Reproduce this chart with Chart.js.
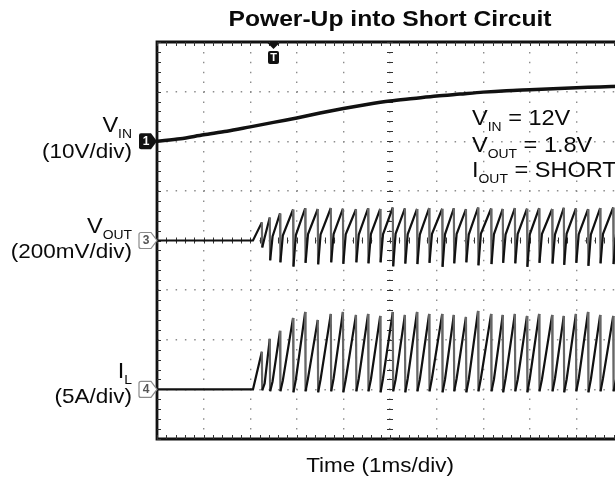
<!DOCTYPE html>
<html>
<head>
<meta charset="utf-8">
<title>Power-Up into Short Circuit</title>
<script src="https://cdn.jsdelivr.net/npm/chart.js@4.4.1/dist/chart.umd.min.js"></script>
<style>
  html, body { margin: 0; padding: 0; background: #fff; overflow: hidden; }
  #wrap { position: relative; width: 640px; height: 479px; }
</style>
</head>
<body>
<div id="wrap"><canvas id="scope"></canvas></div>
<script>
const FONT = '"Liberation Sans", Arial, Helvetica, sans-serif';
const TEXT_SX = 1.07;

// CH1: input voltage, 10 V/div
const vinTimeMs = [0, 0.5, 1.0, 1.5, 2.0, 2.5, 3.0, 3.5, 4.0, 4.5, 5.0, 5.5, 6.0, 6.5, 7.0, 7.5, 8.0, 8.5, 9.0, 9.5, 10];
const vinVolts  = [0, 0.5, 1.3, 2.0, 2.9, 3.8, 4.7, 5.7, 6.6, 7.4, 8.1, 8.6, 9.1, 9.5, 9.9, 10.2, 10.4, 10.6, 10.8, 10.95, 11.1];

// hiccup cycles: time of each current-limit trip
const cycleMs = [2.25, 2.42, 2.64, 2.92, 3.18, 3.45, 3.73, 3.99, 4.27, 4.53, 4.79, 5.06, 5.32, 5.58, 5.84,
                 6.12, 6.37, 6.63, 6.89, 7.17, 7.42, 7.68, 7.94, 8.20, 8.48, 8.73, 8.99, 9.25, 9.51, 9.79];

// CH3: output voltage, 200 mV/div
const voutPeakMv  = [73, 93, 109, 125, 130, 127, 131, 128, 126, 130, 127, 133, 129, 127, 131,
                     128, 130, 126, 133, 129, 127, 131, 128, 130, 127, 132, 129, 126, 131, 133];
const voutSpikeMv = [-28, -80, -88, -105, -90, -96, -88, -94, -88, -92, -88, -104, -93, -95, -90,
                     -106, -92, -88, -100, -95, -90, -92, -106, -90, -93, -98, -90, -102, -92, -95];
const voutFloorMv = [12, 16, 20, 22, 25, 24, 26, 25, 24, 26, 25, 27, 25, 24, 26,
                     25, 26, 24, 27, 25, 24, 26, 25, 26, 24, 27, 25, 24, 26, 25];

// CH4: inductor current, 5 A/div
const ilPeakA  = [3.8, 5.1, 5.9, 7.2, 7.8, 7.0, 7.6, 7.8, 7.5, 7.6, 7.4, 7.8, 7.5, 7.8, 7.6,
                  7.6, 7.5, 7.3, 7.9, 7.6, 7.5, 7.6, 7.4, 7.6, 7.5, 7.4, 7.6, 7.8, 7.5, 7.4];
const ilDipA   = [-0.1, -0.2, -0.2, -0.3, -0.2, -0.3, -0.2, -0.3, -0.2, -0.2, -0.3, -0.2, -0.3, -0.2, -0.2,
                  -0.3, -0.2, -0.3, -0.2, -0.2, -0.3, -0.2, -0.3, -0.2, -0.2, -0.3, -0.2, -0.3, -0.2, -0.2];
const ilFloorA = [0.6, 0.8, 0.9, 1.0, 1.1, 1.0, 1.1, 1.0, 1.1, 1.0, 1.1, 1.0, 1.1, 1.0, 1.1,
                  1.0, 1.1, 1.0, 1.1, 1.0, 1.1, 1.0, 1.1, 1.0, 1.1, 1.0, 1.1, 1.0, 1.1, 1.0];

const softStartMs = 2.06;   // switching begins
const triggerMs = 2.5;
const voutTailMv = 105;     // partial ramp at the right edge
const ilTailA = 6.3;
const dropMs = 0.008;       // trip edge
const settleMs = 0.06;

function buildPulseTrace(peaks, dips, floors, tail) {
  const pts = [{ x: 0, y: 0 }, { x: softStartMs, y: 0 }];
  cycleMs.forEach((t, i) => {
    pts.push({ x: t, y: peaks[i] });
    pts.push({ x: t + dropMs, y: dips[i] });
    pts.push({ x: t + settleMs, y: floors[i] });
  });
  pts.push({ x: 10, y: tail });
  return pts;
}

// near-vertical edges show up lighter on the scope
const edgeColor = c => (Math.abs(c.p1.x - c.p0.x) < 1.2 ? '#666' : '#111');

function txt(ctx, s, x, y, size, opts = {}) {
  const sx = opts.sx || TEXT_SX;
  ctx.save();
  ctx.font = `${opts.bold ? 'bold ' : ''}${size}px ${FONT}`;
  ctx.fillStyle = opts.color || '#0a0a0a';
  ctx.textAlign = 'left';
  ctx.textBaseline = 'alphabetic';
  const w = ctx.measureText(s).width * sx;
  let left = x;
  if (opts.align === 'center') left = x - w / 2;
  if (opts.align === 'right') left = x - w;
  ctx.translate(left, y);
  ctx.scale(sx, 1);
  ctx.fillText(s, 0, 0);
  ctx.restore();
  return w;
}

function textWidth(ctx, s, size) {
  ctx.save();
  ctx.font = `${size}px ${FONT}`;
  const w = ctx.measureText(s).width * TEXT_SX;
  ctx.restore();
  return w;
}

// parts: [text, size, baseline shift]
function richText(ctx, parts, x, y, align) {
  const widths = parts.map(p => textWidth(ctx, p[0], p[1]));
  let cx = align === 'right' ? x - widths.reduce((a, b) => a + b, 0) : x;
  parts.forEach((p, i) => {
    txt(ctx, p[0], cx, y + (p[2] || 0), p[1]);
    cx += widths[i];
  });
}

function channelTag(ctx, label, y, filled) {
  const x0 = 139, x1 = 151, tip = 157, h = 8;
  ctx.save();
  ctx.beginPath();
  ctx.moveTo(x0 + 2, y - h);
  ctx.lineTo(x1, y - h);
  ctx.lineTo(tip, y);
  ctx.lineTo(x1, y + h);
  ctx.lineTo(x0 + 2, y + h);
  ctx.quadraticCurveTo(x0, y + h, x0, y + h - 2);
  ctx.lineTo(x0, y - h + 2);
  ctx.quadraticCurveTo(x0, y - h, x0 + 2, y - h);
  ctx.closePath();
  if (filled) {
    ctx.fillStyle = '#111';
    ctx.fill();
  } else {
    ctx.fillStyle = '#fff';
    ctx.fill();
    ctx.strokeStyle = '#8a8a8a';
    ctx.lineWidth = 1.2;
    ctx.stroke();
  }
  ctx.font = `bold 12px ${FONT}`;
  ctx.fillStyle = filled ? '#fff' : '#555';
  ctx.textAlign = 'center';
  ctx.textBaseline = 'middle';
  ctx.fillText(label, x0 + 7, y + 0.5);
  ctx.restore();
}

const scopeFrame = {
  id: 'scopeFrame',
  beforeDatasetsDraw(chart) {
    const { ctx, chartArea: { left, top, right, bottom } } = chart;
    const xs = chart.scales.x, ys = chart.scales.yOut;
    const cx = xs.getPixelForValue(5), cy = ys.getPixelForValue(0);
    ctx.save();
    ctx.strokeStyle = '#111';
    ctx.lineWidth = 2.8;
    ctx.beginPath();
    ctx.moveTo(right + 10, top);
    ctx.lineTo(left, top);
    ctx.lineTo(left, bottom);
    ctx.lineTo(right + 10, bottom);
    ctx.stroke();

    // minor division marks on the frame and centre axes
    ctx.strokeStyle = '#333';
    ctx.lineWidth = 1;
    ctx.beginPath();
    for (let t = 0; t <= 10.001; t += 0.2) {
      const px = Math.round(xs.getPixelForValue(t)) + 0.5;
      ctx.moveTo(px, top); ctx.lineTo(px, top + 4);
      ctx.moveTo(px, bottom - 4); ctx.lineTo(px, bottom);
      ctx.moveTo(px, cy - 3); ctx.lineTo(px, cy + 3);
    }
    for (let v = -800; v <= 800.1; v += 40) {
      const py = Math.round(ys.getPixelForValue(v)) + 0.5;
      ctx.moveTo(left, py); ctx.lineTo(left + 4, py);
      ctx.moveTo(cx - 3, py); ctx.lineTo(cx + 3, py);
    }
    ctx.stroke();
    ctx.restore();
  },
  afterDatasetsDraw(chart) {
    const { ctx, chartArea: { top } } = chart;
    const xs = chart.scales.x;
    const yIn = chart.scales.yIn.getPixelForValue(0);
    const yOut = chart.scales.yOut.getPixelForValue(0);
    const yL = chart.scales.yL.getPixelForValue(0);

    txt(ctx, 'Power-Up into Short Circuit', 390, 26, 22, { bold: true, align: 'center', sx: 1.12 });
    txt(ctx, 'Time (1ms/div)', 380, 472, 21, { align: 'center' });

    richText(ctx, [['V', 22], ['IN', 13, 6]], 132, yIn - 9, 'right');
    txt(ctx, '(10V/div)', 132, yIn + 17, 21, { align: 'right' });
    richText(ctx, [['V', 22], ['OUT', 13, 6]], 132, yOut - 8, 'right');
    txt(ctx, '(200mV/div)', 132, yOut + 17, 21, { align: 'right' });
    richText(ctx, [['I', 22], ['L', 13, 6]], 132, yL - 11, 'right');
    txt(ctx, '(5A/div)', 132, yL + 14, 21, { align: 'right' });

    channelTag(ctx, '1', yIn, true);
    channelTag(ctx, '3', yOut, false);
    channelTag(ctx, '4', yL, false);

    richText(ctx, [['V', 22], ['IN', 13, 6], [' = 12V', 22]], 472, 125, 'left');
    richText(ctx, [['V', 22], ['OUT', 13, 6], [' = 1.8V', 22]], 472, 152, 'left');
    richText(ctx, [['I', 22], ['OUT', 13, 6], [' = SHORT', 22]], 472, 177, 'left');

    // trigger position marker
    const tx = xs.getPixelForValue(triggerMs);
    ctx.save();
    ctx.fillStyle = '#111';
    ctx.beginPath();
    ctx.moveTo(tx - 6, top + 1);
    ctx.lineTo(tx + 6, top + 1);
    ctx.lineTo(tx, top + 7);
    ctx.closePath();
    ctx.fill();
    ctx.beginPath();
    ctx.roundRect(tx - 5.5, top + 9, 11, 13, 2);
    ctx.fill();
    ctx.font = `bold 11px ${FONT}`;
    ctx.fillStyle = '#fff';
    ctx.textAlign = 'center';
    ctx.textBaseline = 'middle';
    ctx.fillText('T', tx, top + 16);
    ctx.restore();
  }
};

const edgeHidden = c => (c.index === 0 || c.index === c.scale.ticks.length - 1 ? 'rgba(0,0,0,0)' : '#8c8c8c');

new Chart(document.getElementById('scope').getContext('2d'), {
  type: 'line',
  data: {
    datasets: [
      {
        label: 'VIN',
        data: vinTimeMs.map((t, i) => ({ x: t, y: vinVolts[i] })),
        yAxisID: 'yIn',
        borderColor: '#111',
        borderWidth: 3.5,
        tension: 0.3,
        pointRadius: 0
      },
      {
        label: 'VOUT',
        data: buildPulseTrace(voutPeakMv, voutSpikeMv, voutFloorMv, voutTailMv),
        yAxisID: 'yOut',
        borderColor: '#111',
        borderWidth: 2.2,
        pointRadius: 0,
        segment: { borderColor: edgeColor }
      },
      {
        label: 'IL',
        data: buildPulseTrace(ilPeakA, ilDipA, ilFloorA, ilTailA),
        yAxisID: 'yL',
        borderColor: '#111',
        borderWidth: 2.2,
        pointRadius: 0,
        segment: { borderColor: edgeColor }
      }
    ]
  },
  options: {
    responsive: true,
    maintainAspectRatio: false,
    animation: false,
    layout: { padding: { left: 157, top: 42, right: 17, bottom: 40 } },
    plugins: {
      legend: { display: false },
      tooltip: { enabled: false },
      title: { display: false }
    },
    scales: {
      x: {
        type: 'linear',
        min: 0,
        max: 10,
        ticks: { display: false, stepSize: 1 },
        grid: { drawTicks: false, color: edgeHidden, lineWidth: 1.4 },
        border: { display: false, dash: [1.5, 8.4] }
      },
      yOut: {
        position: 'left',
        min: -800,
        max: 800,
        ticks: { display: false, stepSize: 200 },
        grid: { drawTicks: false, color: edgeHidden, lineWidth: 1.4 },
        border: { display: false, dash: [1.5, 7.8] }
      },
      yIn: { display: false, min: -60, max: 20 },
      yL: { display: false, min: -5, max: 35 }
    }
  },
  plugins: [scopeFrame]
});
</script>
</body>
</html>
